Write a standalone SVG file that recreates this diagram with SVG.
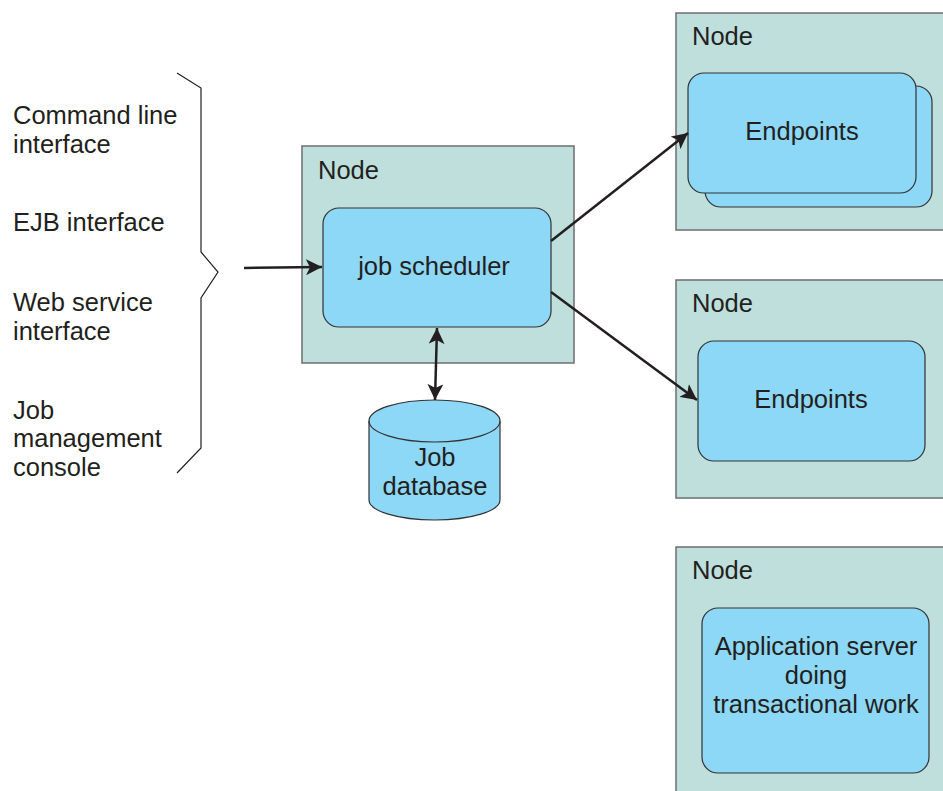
<svg xmlns="http://www.w3.org/2000/svg" width="943" height="791" viewBox="0 0 943 791">
<defs>
<marker id="ah" viewBox="0 0 10 10" refX="10" refY="5" markerWidth="16" markerHeight="16" markerUnits="userSpaceOnUse" orient="auto-start-reverse">
<path d="M0,0 L10,5 L0,10 L2.5,5 Z" fill="#231f20"/>
</marker>
</defs>
<style>
text{font-family:"Liberation Sans",Arial,sans-serif;font-size:25.5px;fill:#231f20}
.node{fill:#bedfdb;stroke:#6d6e70;stroke-width:1.5}
.inner{fill:#8dd7f7;stroke:#333;stroke-width:1.2}
.c{text-anchor:middle}
.conn{stroke:#231f20;stroke-width:2.5;fill:none}
</style>
<rect width="943" height="791" fill="#fff"/>
<g id="interfaces">
<text x="13" y="124">Command line</text>
<text x="13" y="153">interface</text>
<text x="13" y="231">EJB interface</text>
<text x="13" y="311">Web service</text>
<text x="13" y="340">interface</text>
<text x="13" y="419">Job</text>
<text x="13" y="447">management</text>
<text x="13" y="476">console</text>
<path d="M177,73 L201,88 L201,252 L218,272 L201,298 L201,448 L177,473" fill="none" stroke="#231f20" stroke-width="1.2"/>
</g>
<g id="node-scheduler">
<rect class="node" x="302" y="146" width="272" height="217"/>
<text x="318" y="179">Node</text>
<rect class="inner" x="323" y="208" width="228" height="119" rx="16"/>
<text class="c" x="434" y="275">job scheduler</text>
</g>
<g id="job-database">
<path class="inner" d="M369,421 L369,500 A65.5,20 0 0 0 500,500 L500,421 A65.5,21 0 0 0 369,421 Z"/>
<path d="M369,421 A65.5,21 0 0 0 500,421" fill="none" stroke="#333" stroke-width="1.2"/>
<text class="c" x="435" y="466">Job</text>
<text class="c" x="435" y="495">database</text>
</g>
<g id="node-endpoints-1">
<rect class="node" x="676" y="13" width="280" height="217"/>
<text x="692" y="45">Node</text>
<rect class="inner" x="705" y="86" width="227" height="121" rx="16"/>
<rect class="inner" x="688" y="73" width="228" height="120" rx="16"/>
<text class="c" x="802" y="140">Endpoints</text>
</g>
<g id="node-endpoints-2">
<rect class="node" x="676" y="280" width="280" height="218"/>
<text x="692" y="312">Node</text>
<rect class="inner" x="698" y="341" width="227" height="120" rx="16"/>
<text class="c" x="811" y="408">Endpoints</text>
</g>
<g id="node-appserver">
<rect class="node" x="676" y="547" width="280" height="260"/>
<text x="692" y="579">Node</text>
<rect class="inner" x="702" y="608" width="227" height="165" rx="16"/>
<text class="c" x="816" y="655">Application server</text>
<text class="c" x="816" y="684">doing</text>
<text class="c" x="816" y="713">transactional work</text>
</g>
<g id="connectors">
<line class="conn" x1="244" y1="268" x2="322" y2="267" marker-end="url(#ah)"/>
<line class="conn" x1="551" y1="241" x2="688" y2="133" marker-end="url(#ah)"/>
<line class="conn" x1="551" y1="292" x2="697" y2="400" marker-end="url(#ah)"/>
<line class="conn" x1="437" y1="328" x2="435" y2="400" marker-start="url(#ah)" marker-end="url(#ah)"/>
</g>
</svg>
